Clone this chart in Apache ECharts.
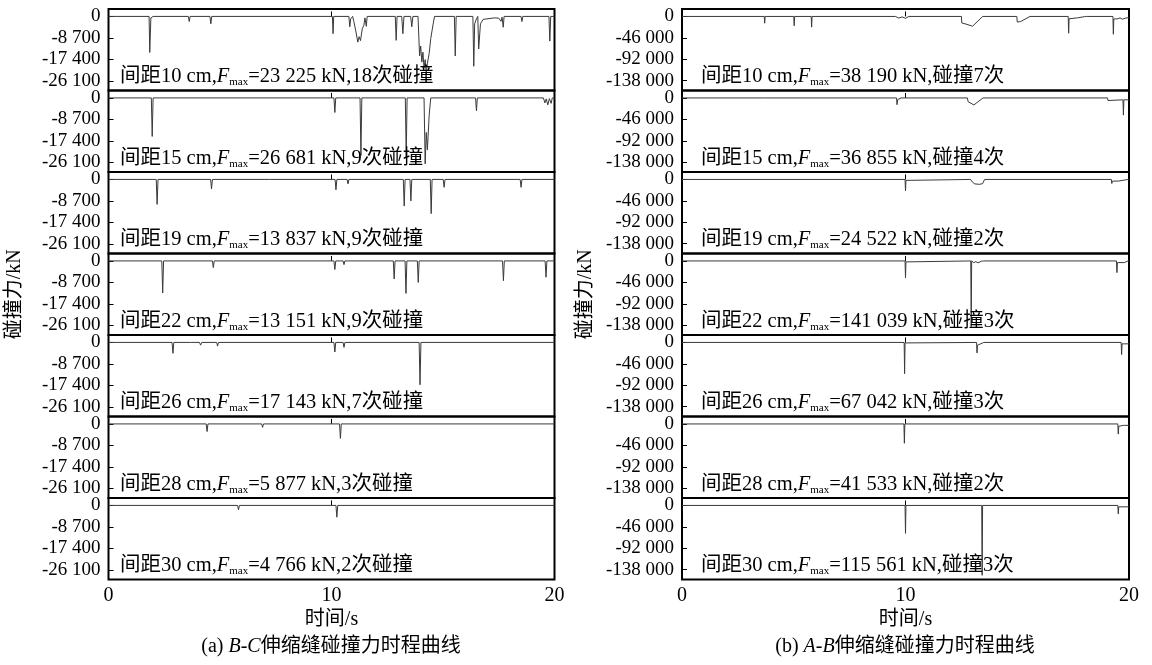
<!DOCTYPE html>
<html>
<head>
<meta charset="utf-8">
<script src="https://cdn.jsdelivr.net/npm/echarts@6/dist/echarts.min.js"></script>
<style>html,body{margin:0;padding:0;background:#fff}#c{width:1152px;height:665px}</style>
</head>
<body>
<div id="c"></div>
<script>
// ---------- data ----------
const spacings = ['10', '15', '19', '22', '26', '28', '30'];
const bcFmax = ['23 225', '26 681', '13 837', '13 151', '17 143', '5 877', '4 766'];
const bcCount = ['18', '9', '9', '9', '7', '3', '2'];
const abFmax = ['38 190', '36 855', '24 522', '141 039', '67 042', '41 533', '115 561'];
const abCount = ['7', '4', '2', '3', '3', '2', '3'];
const bcTicks = [0, -8700, -17400, -26100];
const abTicks = [0, -46000, -92000, -138000];
const xTicks = [0, 10, 20];

// B-C joint, [time s, force kN]
const bc10 = [[0,0],[1.82,0],[1.85,-14600],[1.9,-600],[1.95,-300],[2.0,0],
 [3.58,0],[3.62,-2100],[3.66,0],[4.55,0],[4.59,-3000],[4.63,0],
 [10.04,0],[10.07,-7000],[10.1,0],
 [10.78,0],[10.82,-4200],[10.86,-1000],[10.9,-300],[10.95,0],[11.0,-2000],[11.08,-5500],[11.18,-10400],[11.24,-8200],[11.3,-9800],[11.38,-5000],[11.45,-3600],[11.5,-600],[11.56,-4000],[11.6,0],
 [12.86,0],[12.9,-9700],[12.94,0],[13.0,-500],[13.15,0],[13.2,-7000],[13.25,0],
 [13.55,0],[13.6,-4200],[13.65,0],
 [13.88,0],[13.95,-16000],[14.0,-12000],[14.05,-18500],[14.1,-14500],[14.15,-21000],[14.2,-17500],[14.25,-23225],[14.3,-19000],[14.38,-15000],[14.45,-9000],[14.55,-3500],[14.62,0],
 [15.51,0],[15.55,-16000],[15.59,0],
 [16.34,0],[16.38,-20200],[16.42,-3000],[16.5,-1000],[16.56,0],[16.6,-13200],[16.68,-3000],[16.8,-1200],[17.3,-600],[17.5,-700],[17.6,-2000],[17.65,-300],[17.7,-4400],[17.74,0],
 [18.5,0],[18.54,-2100],[18.58,0],
 [19.75,0],[19.79,-10000],[19.83,0],[20,0]];
const bc15 = [[0,0],[1.92,0],[1.96,-15600],[2.0,0],
 [10.11,0],[10.15,-5900],[10.19,0],
 [11.28,0],[11.32,-23300],[11.36,0],
 [13.31,0],[13.35,-24000],[13.39,0],
 [14.15,0],[14.2,-26681],[14.25,-14000],[14.3,-21000],[14.38,-7000],[14.45,0],
 [16.46,0],[16.5,-5200],[16.54,0],
 [19.5,0],[19.57,-2000],[19.63,-400],[19.7,-2800],[19.77,-300],[19.85,-2200],[19.9,0],[20,0]];
const bc19 = [[0,0],[2.14,0],[2.18,-10100],[2.22,0],
 [4.58,0],[4.62,-3900],[4.66,0],
 [7.22,0],[7.25,-800],[7.28,0],
 [10.16,0],[10.2,-4200],[10.24,0],
 [10.7,0],[10.74,-1800],[10.78,0],
 [13.22,0],[13.26,-10800],[13.3,0],
 [13.52,0],[13.56,-8700],[13.6,0],
 [14.43,0],[14.47,-13837],[14.51,0],
 [15.01,0],[15.05,-3200],[15.09,0],
 [18.46,0],[18.5,-3200],[18.54,0],[20,0]];
const bc22 = [[0,0],[2.39,0],[2.43,-13000],[2.47,0],
 [4.66,0],[4.7,-2700],[4.74,0],
 [10.11,0],[10.15,-3500],[10.19,0],[10.52,0],[10.56,-1500],[10.6,0],
 [12.77,0],[12.81,-7300],[12.85,0],
 [13.3,0],[13.34,-13151],[13.38,0],
 [13.85,0],[13.89,-8700],[13.93,0],
 [17.67,0],[17.71,-8000],[17.75,0],
 [19.58,0],[19.62,-6600],[19.66,0],[20,0]];
const bc26 = [[0,0],[2.85,0],[2.89,-4400],[2.93,0],
 [3.68,0],[3.72,-400],[3.76,0],[4.08,0],[4.13,-1100],[4.18,0],
 [4.85,0],[4.89,-1500],[4.93,0],
 [10.11,0],[10.15,-3900],[10.19,0],
 [10.52,0],[10.56,-2000],[10.6,0],
 [13.93,0],[13.97,-17143],[14.01,0],[20,0]];
const bc28 = [[0,0],[4.38,0],[4.42,-3100],[4.46,0],
 [6.87,0],[6.91,-1400],[6.95,0],
 [10.36,0],[10.4,-5877],[10.44,0],[20,0]];
const bc30 = [[0,0],[5.79,0],[5.83,-1800],[5.87,0],
 [10.2,0],[10.24,-4766],[10.28,0],[20,0]];

// A-B joint, [time s, force kN]
const ab10 = [[0,0],[3.68,0],[3.7,-14500],[3.72,0],
 [5.0,0],[5.02,-20000],[5.04,0],
 [5.78,0],[5.8,-23000],[5.82,0],
 [9.55,0],[9.7,-3500],[9.85,-1000],[10.0,-4000],[10.15,0],
 [12.5,0],[12.52,-14000],[12.75,-17000],[13.0,-21000],[13.45,0],
 [14.98,0],[15.0,-12000],[15.15,-11000],[15.57,0],
 [17.28,0],[17.3,-36000],[17.32,-5000],[17.7,-3000],[18.0,-500],[18.1,0],
 [19.28,0],[19.3,-38190],[19.32,-5500],[19.5,-5000],[19.6,-3000],[19.7,-6000],[19.85,-3500],[20,-2500]];
const ab15 = [[0,0],[3.68,0],[3.7,-3000],[3.72,0],
 [9.6,0],[9.62,-14500],[9.65,-3500],[9.8,0],
 [12.77,0],[12.8,-8000],[13.06,-15000],[13.47,0],
 [15.88,0],[15.9,-1500],[15.92,0],
 [19.04,0],[19.06,-5500],[19.1,-4000],[19.73,-4000],[19.75,-36855],[19.77,-4000],[20,-4000]];
const ab19 = [[0,0],[9.98,0],[10.0,-24522],[10.02,-2000],[10.05,0],
 [12.91,0],[13.0,-6000],[13.1,-9500],[13.3,-10500],[13.45,-9000],[13.54,0],
 [19.21,0],[19.23,-8700],[19.26,-3500],[19.52,-3500],[19.9,-500],[20,0]];
const ab22 = [[0,0],[9.98,0],[10.0,-36000],[10.02,-2000],[10.04,0],
 [12.92,0],[12.94,-141039],[12.96,0],[13.05,-3500],[13.15,-1500],[13.25,-4000],[13.4,-500],[13.5,0],
 [19.44,0],[19.46,-25000],[19.48,-3500],[19.8,-3500],[19.95,0],[20,0]];
const ab26 = [[0,0],[9.94,0],[9.96,-67042],[9.98,-1000],[10.0,0],
 [13.18,0],[13.2,-22500],[13.22,-6000],[13.5,0],
 [19.65,0],[19.67,-26000],[19.69,-3000],[20,-3000]];
const ab28 = [[0,0],[9.93,0],[9.95,-41533],[9.97,0],
 [19.5,0],[19.52,-21800],[19.54,-5000],[19.75,-3000],[20,-3000]];
const ab30 = [[0,0],[9.98,0],[10.0,-60000],[10.02,0],
 [13.41,0],[13.43,-150000],[13.45,0],
 [19.5,0],[19.52,-18000],[19.54,-3000],[20,-3000]];

const bcSeries = [bc10, bc15, bc19, bc22, bc26, bc28, bc30];
const abSeries = [ab10, ab15, ab19, ab22, ab26, ab28, ab30];

// ---------- layout ----------
const FONT = "'Liberation Serif','Noto Sans CJK SC',serif";
const PANEL_TOP = 9, PANEL_H = 81.5;
const COLS = [
  {left: 108.5, width: 446, ymin: -30000, ymax: 3000, ticks: bcTicks, series: bcSeries, fmax: bcFmax, count: bcCount, textX: 120, cx: 331, tag: 'a', pair: 'B-C', nameGap: 84},
  {left: 682, width: 447, ymin: -159000, ymax: 16000, ticks: abTicks, series: abSeries, fmax: abFmax, count: abCount, textX: 701, cx: 905, tag: 'b', pair: 'A-B', nameGap: 86}
];

function fmt(v) {
  const s = String(Math.abs(v)).replace(/\B(?=(\d{3})+(?!\d))/g, ' ');
  return (v < 0 ? '-' : '') + s;
}

const grids = [], xAxes = [], yAxes = [], series = [], titles = [];
const rich = {
  n: {fontFamily: FONT, fontSize: 20.5, fontWeight: 'normal', color: '#000', lineHeight: 22},
  f: {fontFamily: FONT, fontSize: 20.5, fontWeight: 'normal', color: '#000', fontStyle: 'italic', lineHeight: 22},
  s: {fontFamily: FONT, fontSize: 11, fontWeight: 'normal', color: '#000', lineHeight: 8, verticalAlign: 'bottom'}
};
const capRich = {
  n: {fontFamily: FONT, fontSize: 20, fontWeight: 'normal', color: '#000', lineHeight: 22},
  f: {fontFamily: FONT, fontSize: 20, fontWeight: 'normal', color: '#000', fontStyle: 'italic', lineHeight: 22}
};
COLS.forEach((c, ci) => {
  for (let k = 0; k < 7; k++) {
    const idx = grids.length;
    const top = PANEL_TOP + k * PANEL_H;
    const last = k === 6;
    grids.push({left: c.left, top: top, width: c.width, height: PANEL_H, show: true,
      borderColor: '#000', borderWidth: 2, backgroundColor: 'transparent', containLabel: false, outerBoundsMode: 'none'});
    xAxes.push({type: 'value', gridIndex: idx, min: 0, max: 20, interval: 10,
      axisLine: {show: false}, splitLine: {show: false},
      axisTick: {show: true, inside: true, length: 5, lineStyle: {color: '#000', width: 1}},
      axisLabel: {show: last, margin: 6, fontFamily: FONT, fontSize: 20, color: '#000', customValues: xTicks},
      name: last ? '时间/s' : '', nameLocation: 'middle', nameGap: 30,
      nameTextStyle: {fontFamily: FONT, fontSize: 20, color: '#000'}});
    yAxes.push({type: 'value', gridIndex: idx, min: c.ymin, max: c.ymax,
      axisLine: {show: false}, splitLine: {show: false},
      axisTick: {show: true, inside: true, length: 5, customValues: c.ticks, lineStyle: {color: '#000', width: 1}},
      axisLabel: {show: true, margin: 8, fontFamily: FONT, fontSize: 19, color: '#000', customValues: c.ticks, formatter: fmt},
      name: k === 3 ? '碰撞力/kN' : '', nameLocation: 'middle', nameGap: c.nameGap,
      nameTextStyle: {fontFamily: FONT, fontSize: 20, color: '#000'}});
    series.push({type: 'line', xAxisIndex: idx, yAxisIndex: idx, data: c.series[k],
      showSymbol: false, symbol: 'none', clip: true, animation: false,
      lineStyle: {color: '#3a3a3a', width: 1}});
    const tail = ci === 0 ? `${c.count[k]}次碰撞` : `碰撞${c.count[k]}次`;
    titles.push({left: c.textX, top: top + 57, padding: 0,
      text: `{n|间距${spacings[k]} cm,}{f|F}{s|max}{n|=${c.fmax[k]} kN,${tail}}`,
      textStyle: {fontWeight: 'normal', rich: rich}});
  }
  titles.push({left: c.cx, top: 636, padding: 0, textAlign: 'center',
    text: `{n|(${c.tag}) }{f|${c.pair}}{n|伸缩缝碰撞力时程曲线}`,
    textStyle: {fontWeight: 'normal', rich: capRich}});
});

const chart = echarts.init(document.getElementById('c'), null, {renderer: 'canvas'});
chart.setOption({
  backgroundColor: '#fff',
  animation: false,
  title: titles,
  grid: grids,
  xAxis: xAxes,
  yAxis: yAxes,
  series: series
});
</script>
</body>
</html>
